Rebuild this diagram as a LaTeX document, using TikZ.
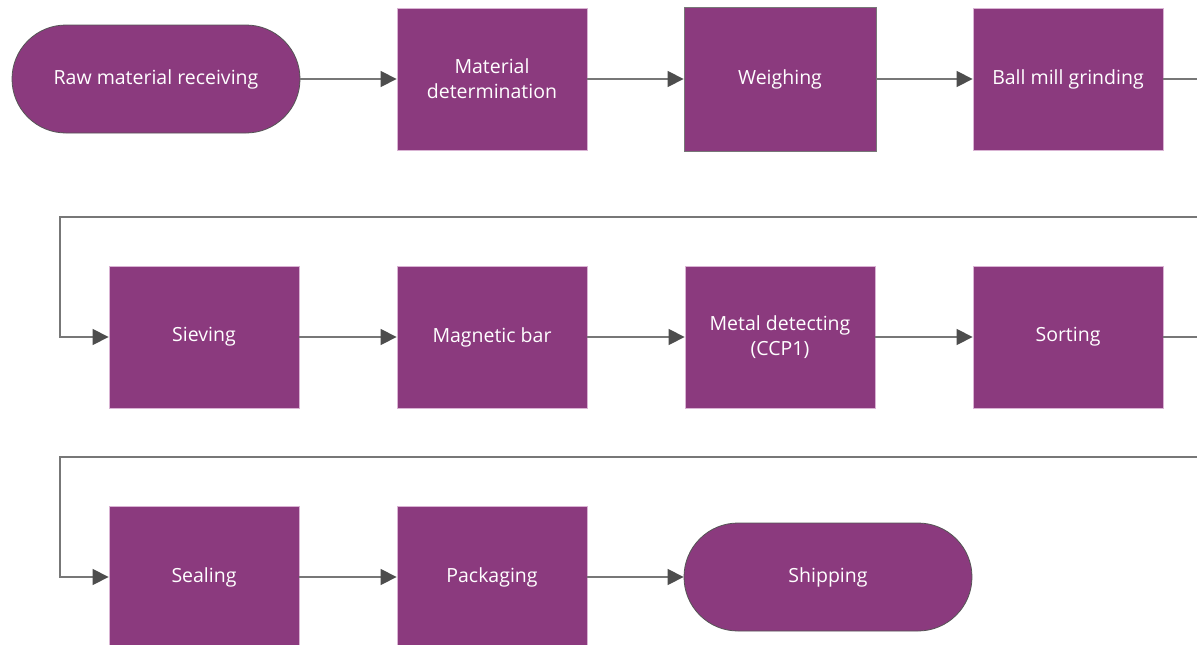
\documentclass[tikz,border=0pt]{standalone}
\usepackage{fontspec}
\setmainfont{Open Sans}
\usetikzlibrary{shapes.misc,arrows.meta}
\definecolor{boxfill}{HTML}{8B3A7E}
\definecolor{boxline}{HTML}{D9B3D3}
\definecolor{termline}{HTML}{555555}
\definecolor{connline}{HTML}{777777}
\definecolor{tipcol}{HTML}{4D4D4D}
\tikzset{
  procbox/.style={rectangle, fill=boxfill, draw=boxline, line width=0.8pt,
    minimum width=190pt, minimum height=142pt, inner sep=0pt,
    text=white, align=center, font=\fontsize{19.5}{25}\selectfont},
  termbox/.style={rounded rectangle, fill=boxfill, draw=termline, line width=0.8pt,
    minimum width=288pt, minimum height=108pt, inner sep=0pt,
    text=white, align=center, font=\fontsize{19.5}{25}\selectfont},
  conn/.style={draw=connline, line width=1.3pt,
    -{Triangle[length=16pt,width=16pt,color=tipcol]}}
}
\begin{document}
\begin{tikzpicture}[x=1pt,y=-1pt]
\clip (0,0) rectangle (1197,645);
\fill[white] (0,0) rectangle (1197,645);
% row 1
\node[termbox] (raw) at (156,79) {Raw material receiving};
\node[procbox] (mat) at (492,79) {Material\\determination};
\node[procbox, draw=connline, minimum width=192pt, minimum height=144pt] (weigh) at (780,79) {Weighing};
\node[procbox] (ball) at (1068,79) {Ball mill grinding};
% row 2
\node[procbox] (sieve) at (204,337) {Sieving};
\node[procbox] (mag) at (492,337) {Magnetic bar};
\node[procbox] (metal) at (780,337) {Metal detecting\\(CCP1)};
\node[procbox] (sort) at (1068,337) {Sorting};
% row 3
\node[procbox] (seal) at (204,577) {Sealing};
\node[procbox] (pack) at (492,577) {Packaging};
\node[termbox] (ship) at (828,577) {Shipping};
% turn points
\coordinate (o1) at (1240,79);
\coordinate (l1) at (60,217);
\coordinate (o2) at (1240,337);
\coordinate (l2) at (60,457);
% connectors
\draw[conn] (raw.east) -- (mat.west);
\draw[conn] (mat) -- (weigh);
\draw[conn] (weigh) -- (ball);
\draw[conn] (ball.east) -- (o1) |- (l1) |- (sieve.west);
\draw[conn] (sieve) -- (mag);
\draw[conn] (mag) -- (metal);
\draw[conn] (metal) -- (sort);
\draw[conn] (sort.east) -- (o2) |- (l2) |- (seal.west);
\draw[conn] (seal) -- (pack);
\draw[conn] (pack) -- (ship);
\end{tikzpicture}
\end{document}
